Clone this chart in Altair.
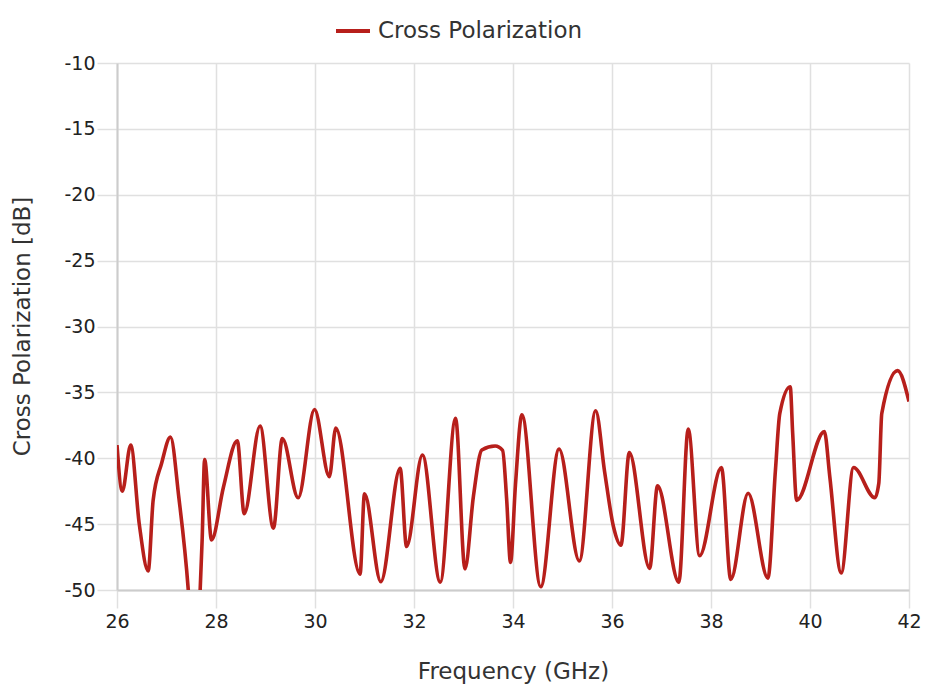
import altair as alt
import pandas as pd

freq = [26.0, 26.107, 26.277, 26.45, 26.63, 26.73, 26.9, 27.08, 27.25, 27.44, 27.56, 27.68,
        27.72, 27.77, 27.91, 28.15, 28.43, 28.57, 28.89, 29.16, 29.34, 29.66, 29.99, 30.29,
        30.42, 30.91, 31.0, 31.33, 31.72, 31.85, 32.17, 32.53, 32.84, 33.03, 33.2, 33.37,
        33.64, 33.79, 33.87, 33.95, 34.05, 34.18, 34.56, 34.93, 35.34, 35.67, 35.85, 36.03,
        36.18, 36.35, 36.76, 36.92, 37.35, 37.54, 37.77, 38.21, 38.40, 38.75, 39.15, 39.30,
        39.39, 39.60, 39.65, 39.73, 40.29, 40.40, 40.63, 40.88, 41.31, 41.39, 41.45, 41.77, 42.0]
xpol = [-39.0, -42.5, -39.0, -45.0, -48.56, -43.2, -40.4, -38.4, -43.0, -50.0, -57.0, -50.0,
        -46.2, -40.1, -46.2, -42.2, -38.67, -44.2, -37.55, -45.3, -38.5, -43.0, -36.3, -41.4,
        -37.7, -48.8, -42.7, -49.37, -40.77, -46.7, -39.75, -49.4, -36.97, -48.4, -42.9, -39.37,
        -39.07, -39.4, -43.0, -47.9, -42.0, -36.7, -49.75, -39.3, -47.8, -36.4, -41.0, -45.2,
        -46.6, -39.57, -48.36, -42.1, -49.4, -37.78, -47.4, -40.7, -49.2, -42.66, -49.1, -41.0,
        -36.6, -34.57, -38.1, -43.2, -37.98, -41.4, -48.7, -40.7, -43.0, -41.9, -36.6, -33.35, -35.7]
series = "Cross Polarization"
x_ticks = [26, 28, 30, 32, 34, 36, 38, 40, 42]
y_ticks = [-10, -15, -20, -25, -30, -35, -40, -45, -50]

df = pd.DataFrame({"freq": freq, "xpol": xpol, "series": series})

FONT = "DejaVu Sans"
RED = "#B71F1B"

chart = alt.Chart(df).mark_line(
    clip=True, interpolate="monotone", strokeWidth=3.6
).encode(
    x=alt.X("freq:Q", scale=alt.Scale(domain=[26, 42], nice=False),
            axis=alt.Axis(values=x_ticks, title="Frequency (GHz)",
                          labelExpr="datum.value + ''", labelFlush=False,
                          titleX=396, titleY=88, titleBaseline="alphabetic",
                          tickSize=18, labelPadding=4)),
    y=alt.Y("xpol:Q", scale=alt.Scale(domain=[-50, -10], nice=False),
            axis=alt.Axis(values=y_ticks, title="Cross Polarization [dB]",
                          labelExpr="datum.value + ''", labelFlush=False,
                          titleX=-95, titleY=263, titleBaseline="middle",
                          tickSize=20, labelPadding=2)),
    color=alt.Color("series:N", scale=alt.Scale(domain=[series], range=[RED]),
                    legend=alt.Legend(title=None, orient="none", legendX=217, legendY=-51,
                                      symbolType="stroke", symbolSize=1156, symbolStrokeWidth=4,
                                      labelFontSize=23, labelFont=FONT, labelColor="#333333",
                                      labelOffset=6, labelLimit=400)),
).properties(
    width=792, height=527,
    padding={"left": 109, "top": 55, "right": 13, "bottom": 100},
    autosize=alt.AutoSizeParams(type="none"),
).configure_view(
    stroke=None
).configure_axis(
    labelFont=FONT, labelFontSize=19, labelColor="#222222",
    titleFont=FONT, titleFontSize=23, titleColor="#333333", titleFontWeight="normal",
    gridColor="#e0e0e0", gridWidth=1.5, tickColor="#e0e0e0", tickWidth=1.5,
    domainColor="#cccccc", domainWidth=2,
)

chart.save("out.html", embed_options={"renderer": "svg", "actions": False})
